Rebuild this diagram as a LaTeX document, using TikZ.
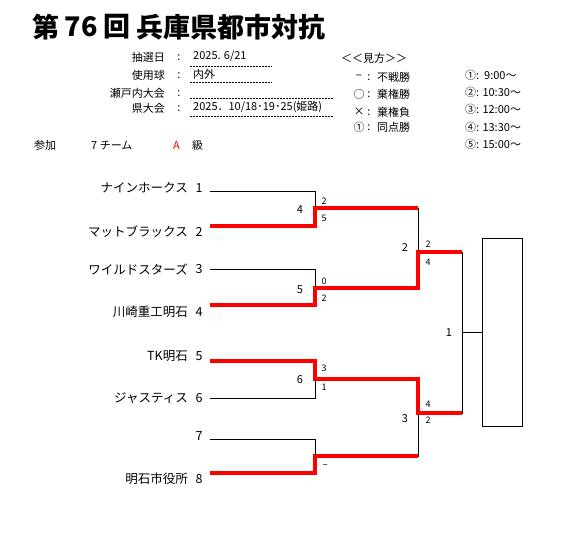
\documentclass[tikz,border=0pt]{standalone}
\usepackage{fontspec}
\setmainfont{Noto Sans CJK JP}
\begin{document}
\begin{tikzpicture}[x=1pt,y=-1pt,
  hdr/.style={font=\fontsize{11}{13}\selectfont, inner sep=0pt},
  title/.style={font=\fontsize{27}{29}\selectfont\bfseries, inner sep=0pt},
  tname/.style={font=\fontsize{12.5}{14}\selectfont, inner sep=0pt, anchor=east},
  tnum/.style={font=\fontsize{12.5}{14}\selectfont, inner sep=0pt},
  mnum/.style={font=\fontsize{11}{12}\selectfont, inner sep=0pt},
  score/.style={font=\fontsize{9}{10}\selectfont, inner sep=0pt},
  br/.style={draw=black, line width=0.8pt},
  win/.style={draw=red, line width=4pt},
  dotl/.style={draw=black, line width=0.8pt, dash pattern=on 1.6pt off 1.4pt}]
\useasboundingbox (0,0) rectangle (563,536);
% title
\node[title, anchor=west] (t1) at (32,27) {第};
\node[title] (t2) at (81,27) {76};
\node[title, anchor=west] (t3) at (103,27) {回};
\node[title, anchor=west] (t4) at (136,27) {兵庫県都市対抗};
% header info
\node[hdr, anchor=east] (h1) at (165,57) {抽選日};
\node[hdr, anchor=east] (h2) at (165,75) {使用球};
\node[hdr, anchor=east] (h3) at (165,93) {瀬戸内大会};
\node[hdr, anchor=east] (h4) at (165,108) {県大会};
\node[hdr] (c1) at (179,58) {:};
\node[hdr] (c2) at (179,76) {:};
\node[hdr] (c3) at (179,94) {:};
\node[hdr] (c4) at (179,109) {:};
\node[hdr, anchor=west] (v1) at (193,56) {2025. 6/21};
\node[hdr, anchor=west] (v2) at (193,74) {内外};
\node[hdr, anchor=west] (v4) at (193,107) {2025．10/18･19･25(姫路)};
\coordinate (d1a) at (190,66); \coordinate (d1b) at (272,66);
\coordinate (d2a) at (190,82); \coordinate (d2b) at (272,82);
\coordinate (d3a) at (190,98); \coordinate (d3b) at (333,98);
\coordinate (d4a) at (190,116); \coordinate (d4b) at (333,116);
\draw[dotl] (d1a) -- (d1b);
\draw[dotl] (d2a) -- (d2b);
\draw[dotl] (d3a) -- (d3b);
\draw[dotl] (d4a) -- (d4b);
% participation
\node[hdr, anchor=west] (sk) at (34,145) {参加};
\node[hdr, anchor=west] (nt) at (91,145) {7 チーム};
\node[hdr, anchor=west, text=red] (cls) at (173,145) {A};
\node[hdr, anchor=west] (kyu) at (192,145) {級};
% legend
\node[hdr, anchor=west] (lg) at (341,58) {＜＜見方＞＞};
\node[hdr] (ls1) at (359,77) {−};
\node[hdr] (ls2) at (359,94) {○};
\node[hdr] (ls3) at (359,112) {×};
\node[hdr] (ls4) at (359,127) {①};
\node[hdr] (lc1) at (369,78) {:};
\node[hdr] (lc2) at (369,95) {:};
\node[hdr] (lc3) at (369,113) {:};
\node[hdr] (lc4) at (369,128) {:};
\node[hdr, anchor=west] (lw1) at (377,77) {不戦勝};
\node[hdr, anchor=west] (lw2) at (377,94) {棄権勝};
\node[hdr, anchor=west] (lw3) at (377,112) {棄権負};
\node[hdr, anchor=west] (lw4) at (377,127) {同点勝};
\node[hdr, anchor=west] (tm1) at (465,75) {①:\ \ 9:00〜};
\node[hdr, anchor=west] (tm2) at (465,92) {②: 10:30〜};
\node[hdr, anchor=west] (tm3) at (465,109) {③: 12:00〜};
\node[hdr, anchor=west] (tm4) at (465,127) {④: 13:30〜};
\node[hdr, anchor=west] (tm5) at (465,144) {⑤: 15:00〜};
% team labels
\node[tname] (n1) at (188,188) {ナインホークス};
\node[tname] (n2) at (188,232) {マットブラックス};
\node[tname] (n3) at (188,269) {ワイルドスターズ};
\node[tname] (n4) at (188,312) {川崎重工明石};
\node[tname] (n5) at (188,356) {TK明石};
\node[tname] (n6) at (188,398) {ジャスティス};
\node[tname] (n8) at (188,479) {明石市役所};
\node[tnum] (k1) at (199,188) {1};
\node[tnum] (k2) at (199,232) {2};
\node[tnum] (k3) at (199,269) {3};
\node[tnum] (k4) at (199,312) {4};
\node[tnum] (k5) at (199,356) {5};
\node[tnum] (k6) at (199,398) {6};
\node[tnum] (k7) at (199,436) {7};
\node[tnum] (k8) at (199,479) {8};
% bracket coordinates
\coordinate (s1) at (210,191); \coordinate (e1) at (315,191);
\coordinate (s2) at (210,226); \coordinate (e2) at (315,226);
\coordinate (s3) at (210,269); \coordinate (e3) at (315,269);
\coordinate (s4) at (210,305); \coordinate (e4) at (315,305);
\coordinate (s5) at (210,361); \coordinate (e5) at (315,361);
\coordinate (s6) at (210,398); \coordinate (e6) at (315,398);
\coordinate (s7) at (210,439); \coordinate (e7) at (315,439);
\coordinate (s8) at (210,473); \coordinate (e8) at (315,473);
\coordinate (ma) at (315,208); \coordinate (mae) at (418,208);
\coordinate (mb) at (315,288); \coordinate (mbe) at (418,288);
\coordinate (mc) at (315,379); \coordinate (mce) at (418,379);
\coordinate (md) at (315,456); \coordinate (mde) at (418,456);
\coordinate (sa) at (418,252); \coordinate (sae) at (462,252);
\coordinate (sb) at (418,413); \coordinate (sbe) at (462,413);
\coordinate (fm) at (462,332); \coordinate (fe) at (482,332);
% black bracket
\draw[br] (s1) -- (e1) -- (e2) -- (s2);
\draw[br] (s3) -- (e3) -- (e4) -- (s4);
\draw[br] (s5) -- (e5) -- (e6) -- (s6);
\draw[br] (s7) -- (e7) -- (e8) -- (s8);
\draw[br] (ma) -- (mae) -- (mbe) -- (mb);
\draw[br] (mc) -- (mce) -- (mde) -- (md);
\draw[br] (sa) -- (sae) -- (sbe) -- (sb);
\draw[br] (fm) -- (fe);
% winner paths
\draw[win] (s2) -- (e2) -- (ma) -- (mae);
\draw[win] (s4) -- (e4) -- (mb) -- (mbe) -- (sa) -- (sae);
\draw[win] (s5) -- (e5) -- (mc) -- (mce) -- (sb) -- (sbe);
\draw[win] (s8) -- (e8) -- (md) -- (mde);
% champion box
\node[draw=black, line width=0.8pt, minimum width=40pt, minimum height=188pt, inner sep=0pt, anchor=west] (box) at (fe) {};
% match numbers
\node[mnum] (g4) at (300,210) {4};
\node[mnum] (g5) at (300,290) {5};
\node[mnum] (g6) at (300,380) {6};
\node[mnum] (g2) at (405,248) {2};
\node[mnum] (g3) at (405,419) {3};
\node[mnum] (g1) at (449,333) {1};
% scores
\node[score] (p1) at (324,201) {2};
\node[score] (p2) at (324,218) {5};
\node[score] (p3) at (324,281) {0};
\node[score] (p4) at (324,298) {2};
\node[score] (p5) at (324,368) {3};
\node[score] (p6) at (324,387) {1};
\node[score] (p8) at (325,467) {−};
\node[score] (q1) at (428,244) {2};
\node[score] (q2) at (428,262) {4};
\node[score] (q3) at (428,404) {4};
\node[score] (q4) at (428,420) {2};
\end{tikzpicture}
\end{document}
